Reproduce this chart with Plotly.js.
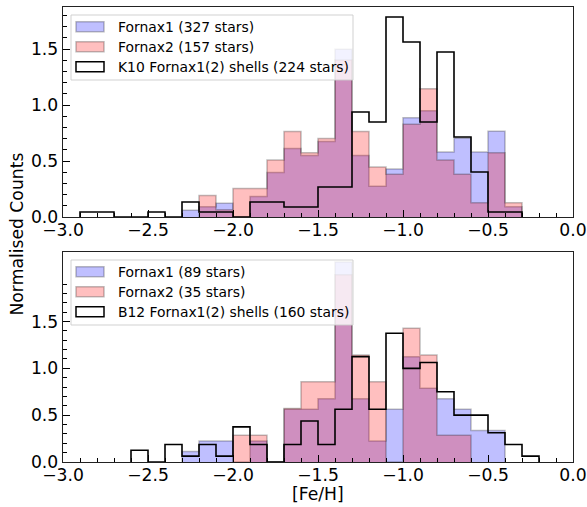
<!DOCTYPE html>
<html><head><meta charset="utf-8">
<script src="https://cdn.plot.ly/plotly-3.0.1.min.js"></script>
<style>html,body{margin:0;padding:0;background:#fff}#chart{width:587px;height:507px}</style>
</head><body><div id="chart"></div>
<script>
// Bin left edges of [Fe/H] (bin width 0.1 dex)
const binLeft = [-3.0,-2.9,-2.8,-2.7,-2.6,-2.5,-2.4,-2.3,-2.2,-2.1,-2.0,-1.9,-1.8,-1.7,-1.6,-1.5,-1.4,-1.3,-1.2,-1.1,-1.0,-0.9,-0.8,-0.7,-0.6,-0.5,-0.4,-0.3,-0.2,-0.1];
const binWidth = 0.1;

// Top panel: normalised counts per bin
const topFornax1 = [0,0,0,0,0,0,0,0.061,0.092,0.122,0,0.183,0.398,0.612,0.550,0.673,1.498,0.550,0.275,0.428,0.887,0.948,0.581,0.703,0.581,0.765,0.092,0,0,0];
const topFornax2 = [0,0,0,0,0,0,0,0,0.191,0.064,0.255,0.255,0.510,0.764,0.573,0.701,1.401,0.764,0.446,0.382,0.828,1.146,0.510,0.382,0.127,0.573,0.127,0,0,0];
const topK10     = [0,0.045,0.045,0,0,0.045,0,0.134,0.045,0.045,0,0.134,0.134,0.089,0.089,0.268,0.268,0.938,0.848,1.786,1.563,0.848,1.473,0.714,0.402,0.045,0.045,0,0,0];

// Bottom panel: normalised counts per bin
const botFornax1 = [0,0,0,0,0,0,0,0.112,0.225,0.225,0,0.225,0,0.562,0.562,0.674,2.135,0.674,0.225,0.562,1.124,0.787,0.674,0.562,0.337,0.337,0,0,0,0];
const botFornax2 = [0,0,0,0,0,0,0,0,0,0,0.286,0.286,0,0.571,0.857,0.857,2.000,1.143,0.857,0,1.429,1.143,0.286,0.286,0,0,0,0,0,0];
const botB12     = [0,0,0,0,0.125,0,0.1875,0.0625,0.1875,0.0625,0.375,0.1875,0,0.1875,0.4375,0.1875,0.5625,1.125,0.5625,1.375,1.0,1.0625,0.75,0.5,0.5,0.3125,0.1875,0.0625,0,0];

const topLabels = ['Fornax1 (327 stars)', 'Fornax2 (157 stars)', 'K10 Fornax1(2) shells (224 stars)'];
const botLabels = ['Fornax1 (89 stars)', 'Fornax2 (35 stars)', 'B12 Fornax1(2) shells (160 stars)'];

const xTickVals = [-3.0,-2.5,-2.0,-1.5,-1.0,-0.5,0.0];
const yTickVals = [0.0,0.5,1.0,1.5];
const botMinorY = [0.1,0.2,0.3,0.4,0.6,0.7,0.8,0.9,1.1,1.2,1.3,1.4,1.6,1.7,1.8,1.9];
const topYMax = 1.875, botYMax = 2.242;
const xLabel = '[Fe/H]', yLabel = 'Normalised Counts';

const FONT = 'DejaVu Sans';
const TICK_SIZE = 17.2;
const BLUE_FILL = 'rgba(0,0,255,0.25)', RED_FILL = 'rgba(255,0,0,0.25)', EDGE = 'rgba(0,0,0,0.25)';

function stepXY(vals){
  let first = vals.findIndex(v => v > 0);
  let last = vals.length - 1; while (last > 0 && !(vals[last] > 0)) last--;
  const x = [binLeft[first]], y = [0];
  for (let i = first; i <= last; i++){ x.push(binLeft[i]); y.push(vals[i]); }
  x.push(binLeft[last] + binWidth); y.push(0);
  return {x, y};
}
function filled(vals, color, xa, ya){
  const s = stepXY(vals);
  return {type:'scatter', mode:'lines', x:s.x, y:s.y, xaxis:xa, yaxis:ya,
    line:{shape:'hv', color:EDGE, width:1.5}, fill:'tozeroy', fillcolor:color,
    showlegend:false, hoverinfo:'skip'};
}
function outline(vals, xa, ya){
  const s = stepXY(vals);
  return {type:'scatter', mode:'lines', x:s.x, y:s.y, xaxis:xa, yaxis:ya,
    line:{shape:'hv', color:'black', width:1.6}, showlegend:false, hoverinfo:'skip'};
}

const data = [
  filled(topFornax1, BLUE_FILL, 'x', 'y'),
  filled(topFornax2, RED_FILL, 'x', 'y'),
  outline(topK10, 'x', 'y'),
  filled(botFornax1, BLUE_FILL, 'x2', 'y2'),
  filled(botFornax2, RED_FILL, 'x2', 'y2'),
  outline(botB12, 'x2', 'y2'),
];

// pixel -> paper helpers (plot area: x 63..573, y 7..462)
const L = 63, T = 7, W = 510, H = 455;
const px = v => (v - L) / W;
const py = v => 1 - (v - T) / H;

const shapes = [], annotations = [];
function legend(offY, labels){
  shapes.push({type:'rect', xref:'paper', yref:'paper', layer:'above',
    x0:px(71), x1:px(353), y0:py(15+offY), y1:py(80+offY),
    fillcolor:'rgba(255,255,255,0.8)', line:{color:'rgba(204,204,204,0.9)', width:1}});
  const fills = [BLUE_FILL, RED_FILL, 'rgba(255,255,255,0)'];
  const edges = [EDGE, EDGE, 'black'];
  labels.forEach((lab, i) => {
    const cy = 26.7 + 20*i + offY;
    shapes.push({type:'rect', xref:'paper', yref:'paper', layer:'above',
      x0:px(76), x1:px(104), y0:py(cy+5), y1:py(cy-5),
      fillcolor:fills[i], line:{color:edges[i], width:1.5}});
    annotations.push({xref:'paper', yref:'paper', x:px(116), y:py(cy), xanchor:'left', yanchor:'middle',
      text:lab, showarrow:false, font:{family:FONT, size:13.9, color:'black'}});
  });
}
legend(0, topLabels);
legend(245, botLabels);

annotations.push({xref:'paper', yref:'paper', x:px(16), y:py(234.5), textangle:-90, xanchor:'center', yanchor:'middle',
  text:yLabel, showarrow:false, font:{family:FONT, size:TICK_SIZE, color:'black'}});
annotations.push({xref:'paper', yref:'paper', x:px(318), y:py(494), xanchor:'center', yanchor:'middle',
  text:xLabel, showarrow:false, font:{family:FONT, size:TICK_SIZE, color:'black'}});

function xAxis(anchor){
  return {domain:[0,1], anchor:anchor, range:[-3,0], tickmode:'array', tickvals:xTickVals, tickformat:'.1f',
    ticks:'inside', ticklen:7, tickwidth:1, tickcolor:'black', ticklabelstandoff:-3,
    minor:{tickmode:'linear', tick0:0, dtick:0.1, ticks:'inside', ticklen:4, tickwidth:1, tickcolor:'black'},
    showline:true, linecolor:'#222', linewidth:1.3, mirror:true, showgrid:false, zeroline:false,
    tickfont:{family:FONT, size:TICK_SIZE, color:'black'}};
}
function yAxis(anchor, dom, ymax, minor){
  return {domain:dom, anchor:anchor, range:[0,ymax], tickmode:'array', tickvals:yTickVals, tickformat:'.1f',
    ticks:'inside', ticklen:7, tickwidth:1, tickcolor:'black', minor:minor,
    showline:true, linecolor:'#222', linewidth:1.3, mirror:true, showgrid:false, zeroline:false,
    tickfont:{family:FONT, size:TICK_SIZE, color:'black'}};
}

const layout = {
  width:587, height:507, margin:{l:L, r:587-L-W, t:T, b:507-T-H},
  paper_bgcolor:'white', plot_bgcolor:'white', showlegend:false,
  xaxis:xAxis('y'),
  yaxis:yAxis('x', [(462-217)/455, 1], topYMax,
    {tickmode:'linear', tick0:0, dtick:0.1, ticks:'inside', ticklen:4, tickwidth:1, tickcolor:'black'}),
  xaxis2:xAxis('y2'),
  yaxis2:yAxis('x2', [0, (462-252)/455], botYMax,
    {tickmode:'array', tickvals:botMinorY, ticks:'inside', ticklen:4, tickwidth:1, tickcolor:'black'}),
  shapes:shapes, annotations:annotations
};

Plotly.newPlot('chart', data, layout, {staticPlot:true, displayModeBar:false});
</script>
</body></html>
